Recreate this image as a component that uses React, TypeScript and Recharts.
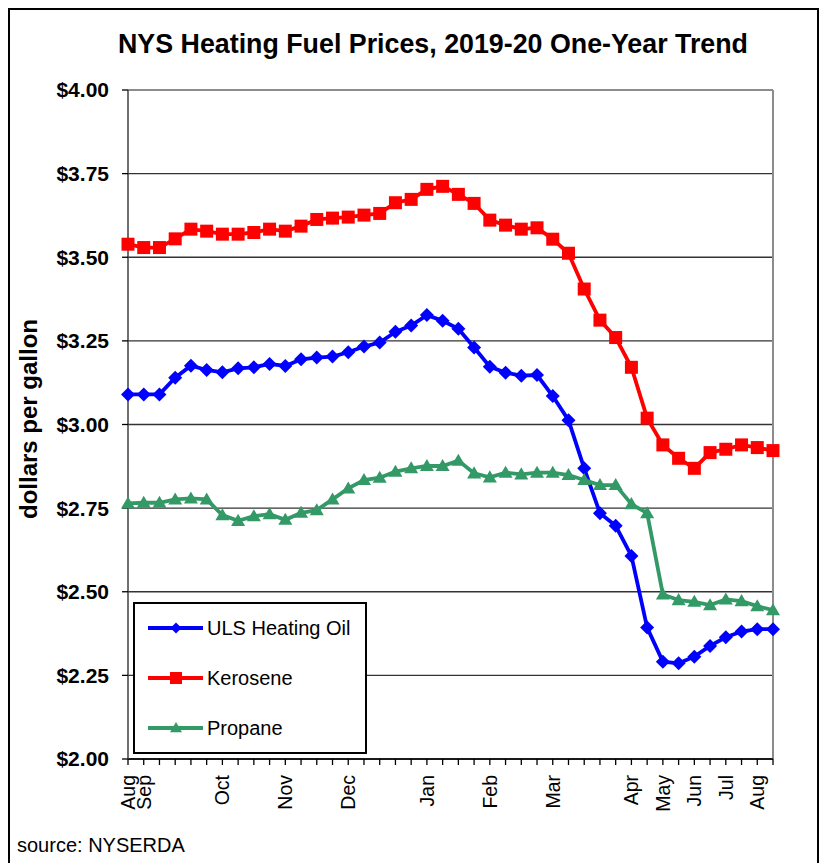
import React from "react";
import {
  LineChart,
  Line,
  XAxis,
  YAxis,
  CartesianGrid,
  Legend,
  ReferenceLine,
} from "recharts";

// one label per weekly survey point, blank where the axis shows no month
const WEEK_LABELS = [
  "Aug", "Sep", "", "", "", "", "Oct", "", "", "",
  "Nov", "", "", "", "Dec", "", "", "", "", "Jan",
  "", "", "", "Feb", "", "", "", "Mar", "", "",
  "", "", "Apr", "", "May", "", "Jun", "", "Jul", "",
  "Aug", "",
];

const ULS_HEATING_OIL = [
  3.09, 3.09, 3.09, 3.14, 3.176, 3.163, 3.156, 3.168, 3.171, 3.181,
  3.175, 3.195, 3.2, 3.203, 3.216, 3.233, 3.245, 3.277, 3.296, 3.327,
  3.31, 3.286, 3.23, 3.173, 3.155, 3.146, 3.148, 3.085, 3.013, 2.869,
  2.735, 2.697, 2.607, 2.393, 2.291, 2.286, 2.306, 2.338, 2.364, 2.381,
  2.388, 2.388,
];

const KEROSENE = [
  3.539, 3.529, 3.529, 3.555, 3.584, 3.578, 3.569, 3.569, 3.574, 3.584,
  3.578, 3.593, 3.613, 3.617, 3.62, 3.626, 3.631, 3.663, 3.673, 3.703,
  3.712, 3.688, 3.661, 3.611, 3.596, 3.584, 3.588, 3.554, 3.512, 3.405,
  3.312, 3.26, 3.171, 3.019, 2.939, 2.899, 2.869, 2.916, 2.926, 2.939,
  2.931, 2.922,
];

const PROPANE = [
  2.764, 2.766, 2.766, 2.776, 2.779, 2.776, 2.729, 2.712, 2.726, 2.732,
  2.715, 2.736, 2.744, 2.776, 2.809, 2.834, 2.841, 2.859, 2.869, 2.876,
  2.876, 2.892, 2.854, 2.842, 2.856, 2.851, 2.856, 2.856, 2.849, 2.834,
  2.819, 2.819, 2.762, 2.735, 2.492, 2.475, 2.47, 2.46, 2.477, 2.472,
  2.457, 2.445,
];

const Y_TICKS = [2, 2.25, 2.5, 2.75, 3, 3.25, 3.5, 3.75, 4];

const data = WEEK_LABELS.map((label, i) => ({
  i,
  label,
  uls: ULS_HEATING_OIL[i],
  kerosene: KEROSENE[i],
  propane: PROPANE[i],
}));

const xTicks = WEEK_LABELS.map((_, i) => i);

const FONT = '"Liberation Sans", Arial, sans-serif';
const BLUE = "#0000ff";
const RED = "#ff0000";
const GREEN = "#339966";

const Diamond = (props: any) => {
  const { cx, cy, r = 7, fill } = props;
  if (cx == null || cy == null) return null;
  return (
    <polygon
      points={`${cx},${cy - r} ${cx + r},${cy} ${cx},${cy + r} ${cx - r},${cy}`}
      fill={fill}
    />
  );
};

const Square = (props: any) => {
  const { cx, cy, r = 6.5, fill } = props;
  if (cx == null || cy == null) return null;
  return <rect x={cx - r} y={cy - r} width={r * 2} height={r * 2} fill={fill} />;
};

const Triangle = (props: any) => {
  const { cx, cy, r = 7, fill } = props;
  if (cx == null || cy == null) return null;
  return (
    <polygon
      points={`${cx},${cy - r} ${cx + r},${cy + r * 0.72} ${cx - r},${cy + r * 0.72}`}
      fill={fill}
    />
  );
};

const MonthTick = (props: any) => {
  const { x, y, payload } = props;
  const text = WEEK_LABELS[payload.value];
  if (!text) return null;
  return (
    <text
      x={x}
      y={y}
      transform={`rotate(-90, ${x}, ${y})`}
      textAnchor="end"
      dominantBaseline="central"
      fontFamily={FONT}
      fontSize={19.5}
      fill="#000"
    >
      {text}
    </text>
  );
};

const SERIES = [
  { name: "ULS Heating Oil", color: BLUE, Marker: Diamond, r: 5.5 },
  { name: "Kerosene", color: RED, Marker: Square, r: 6 },
  { name: "Propane", color: GREEN, Marker: Triangle, r: 6 },
];

const LegendBox = () => (
  <div
    style={{
      position: "relative",
      width: 234,
      height: 152,
      boxSizing: "border-box",
      border: "2px solid #000",
      background: "#fff",
      fontFamily: FONT,
      fontSize: 20,
    }}
  >
    {SERIES.map((s, k) => (
      <div
        key={s.name}
        style={{
          position: "absolute",
          left: 13,
          top: 12 + k * 50,
          height: 24,
          display: "flex",
          alignItems: "center",
          whiteSpace: "nowrap",
        }}
      >
        <svg width={58} height={24}>
          <line x1={0} y1={12} x2={55} y2={12} stroke={s.color} strokeWidth={4} />
          <s.Marker cx={28} cy={12} r={s.r} fill={s.color} />
        </svg>
        <span style={{ marginLeft: 1 }}>{s.name}</span>
      </div>
    ))}
  </div>
);

export default function App() {
  return (
    <div
      style={{
        position: "absolute",
        left: 0,
        top: 0,
        width: 825,
        height: 863,
        overflow: "hidden",
        background: "#fff",
        fontFamily: FONT,
      }}
    >
      <div
        style={{
          position: "absolute",
          left: 8,
          top: 8,
          width: 811,
          height: 900,
          boxSizing: "border-box",
          border: "2px solid #000",
        }}
      />
      <div
        style={{
          position: "absolute",
          left: 118,
          top: 31,
          fontSize: 26.8,
          lineHeight: "26.8px",
          fontWeight: "bold",
          whiteSpace: "nowrap",
        }}
      >
        NYS Heating Fuel Prices, 2019-20 One-Year Trend
      </div>
      <div
        style={{
          position: "absolute",
          left: 29,
          top: 419,
          transform: "translate(-50%, -50%) rotate(-90deg)",
          fontSize: 24,
          fontWeight: "bold",
          whiteSpace: "nowrap",
        }}
      >
        dollars per gallon
      </div>
      <div
        style={{
          position: "absolute",
          left: 17,
          top: 834,
          fontSize: 20,
          whiteSpace: "nowrap",
        }}
      >
        source: NYSERDA
      </div>
      <div style={{ position: "absolute", left: 0, top: 0 }}>
        <LineChart
          width={825}
          height={863}
          data={data}
          margin={{ top: 90, right: 52, bottom: 44, left: 28 }}
        >
          <CartesianGrid vertical={false} stroke="#333" strokeWidth={1.3} />
          <XAxis
            dataKey="i"
            type="number"
            domain={[0, 41]}
            ticks={xTicks}
            interval={0}
            height={60}
            tickSize={6}
            tickMargin={10}
            axisLine={{ stroke: "#000", strokeWidth: 1.5 }}
            tickLine={{ stroke: "#000", strokeWidth: 1.3 }}
            tick={<MonthTick />}
          />
          <YAxis
            type="number"
            domain={[2, 4]}
            ticks={Y_TICKS}
            interval={0}
            width={100}
            tickSize={6}
            tickMargin={13}
            axisLine={{ stroke: "#404040", strokeWidth: 1.5 }}
            tickLine={{ stroke: "#000", strokeWidth: 1.3 }}
            tickFormatter={(v: number) => `$${v.toFixed(2)}`}
            tick={{ fill: "#000", fontSize: 21, fontWeight: "bold", fontFamily: FONT }}
          />
          <ReferenceLine y={4} stroke="#8c8c8c" strokeWidth={2} />
          <ReferenceLine x={41} stroke="#8c8c8c" strokeWidth={2} />
          <Legend
            verticalAlign="middle"
            align="center"
            layout="horizontal"
            wrapperStyle={{ left: 133, top: 602, width: 234, height: 152 }}
            content={() => <LegendBox />}
          />
          <Line
            type="linear"
            dataKey="uls"
            name="ULS Heating Oil"
            stroke={BLUE}
            strokeWidth={3.8}
            dot={<Diamond r={7} fill={BLUE} />}
            activeDot={false}
            isAnimationActive={false}
          />
          <Line
            type="linear"
            dataKey="kerosene"
            name="Kerosene"
            stroke={RED}
            strokeWidth={3.8}
            dot={<Square r={6.5} fill={RED} />}
            activeDot={false}
            isAnimationActive={false}
          />
          <Line
            type="linear"
            dataKey="propane"
            name="Propane"
            stroke={GREEN}
            strokeWidth={3.8}
            dot={<Triangle r={7} fill={GREEN} />}
            activeDot={false}
            isAnimationActive={false}
          />
        </LineChart>
      </div>
    </div>
  );
}
